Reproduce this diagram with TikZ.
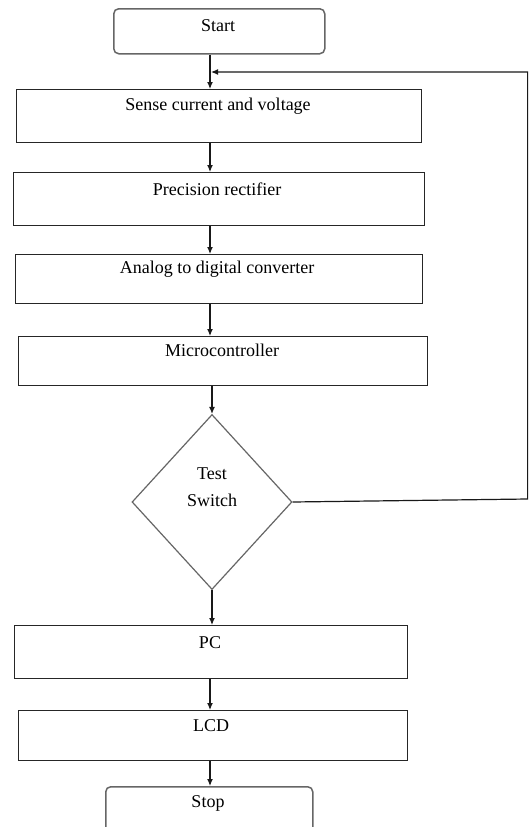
\documentclass[tikz,border=0pt]{standalone}
\usepackage{fontspec}
\setmainfont{Liberation Serif}
\usetikzlibrary{shapes.geometric,arrows.meta}
\begin{document}
\begin{tikzpicture}[x=1pt,y=-1pt,
  box/.style={draw=black!85,line width=1.3pt,rectangle,inner sep=0pt,anchor=north west},
  term/.style={draw=black!60,line width=1.5pt,rectangle,rounded corners=5pt,inner sep=0pt,anchor=north west},
  lbl/.style={inner sep=0pt,font=\fontsize{18}{27}\selectfont,align=center},
  arr/.style={draw=black!90,line width=1.2pt,-{Latex[length=7pt,width=6pt]}},
  ln/.style={draw=black!90,line width=1.2pt}]
\useasboundingbox (0,0) rectangle (531,827);
\clip (0,0) rectangle (531,827);
\fill[white] (0,0) rectangle (531,827);
\coordinate (ax) at (210,0);
\coordinate (join) at (211,72);
\node[term,minimum width=211pt,minimum height=45pt] (start) at (113,8) {};
\node[lbl] (tstart) at (218,26) {Start};
\node[box,minimum width=405pt,minimum height=53pt] (sense) at (16,89) {};
\node[lbl] (tsense) at (218,106) {Sense current and voltage};
\node[box,minimum width=411pt,minimum height=53pt] (prec) at (13,172) {};
\node[lbl] (tprec) at (217,189) {Precision rectifier};
\node[box,minimum width=407pt,minimum height=49pt] (adc) at (15,254) {};
\node[lbl] (tadc) at (217,269) {Analog to digital converter};
\node[box,minimum width=409pt,minimum height=49pt] (mcu) at (18,336) {};
\node[lbl] (tmcu) at (222,350) {Microcontroller};
\node[draw=black!60,line width=1.2pt,diamond,inner sep=0pt,minimum width=160pt,minimum height=175pt] (dia) at (212,502) {};
\node[lbl] (tdia) at (212,487) {Test\\Switch};
\node[box,minimum width=393pt,minimum height=53pt] (pc) at (14,625) {};
\node[lbl] (tpc) at (210,643) {PC};
\node[box,minimum width=389pt,minimum height=50pt] (lcd) at (18,710) {};
\node[lbl] (tlcd) at (211,726) {LCD};
\node[term,minimum width=207pt,minimum height=60pt] (stop) at (105,786) {};
\node[lbl] (tstop) at (208,803) {Stop};
\draw[arr] (start.south -| ax) -- (sense.north -| ax);
\draw[arr] (sense.south -| ax) -- (prec.north -| ax);
\draw[arr] (prec.south -| ax) -- (adc.north -| ax);
\draw[arr] (adc.south -| ax) -- (mcu.north -| ax);
\draw[arr] (mcu.south -| dia.north) -- (dia.north);
\draw[arr] (dia.south) -- (pc.north -| dia.south);
\draw[arr] (pc.south -| ax) -- (lcd.north -| ax);
\draw[arr] (lcd.south -| ax) -- (stop.north -| ax);
\draw[arr] (dia.east) -- ++(235,-3) |- (join);
\end{tikzpicture}
\end{document}
